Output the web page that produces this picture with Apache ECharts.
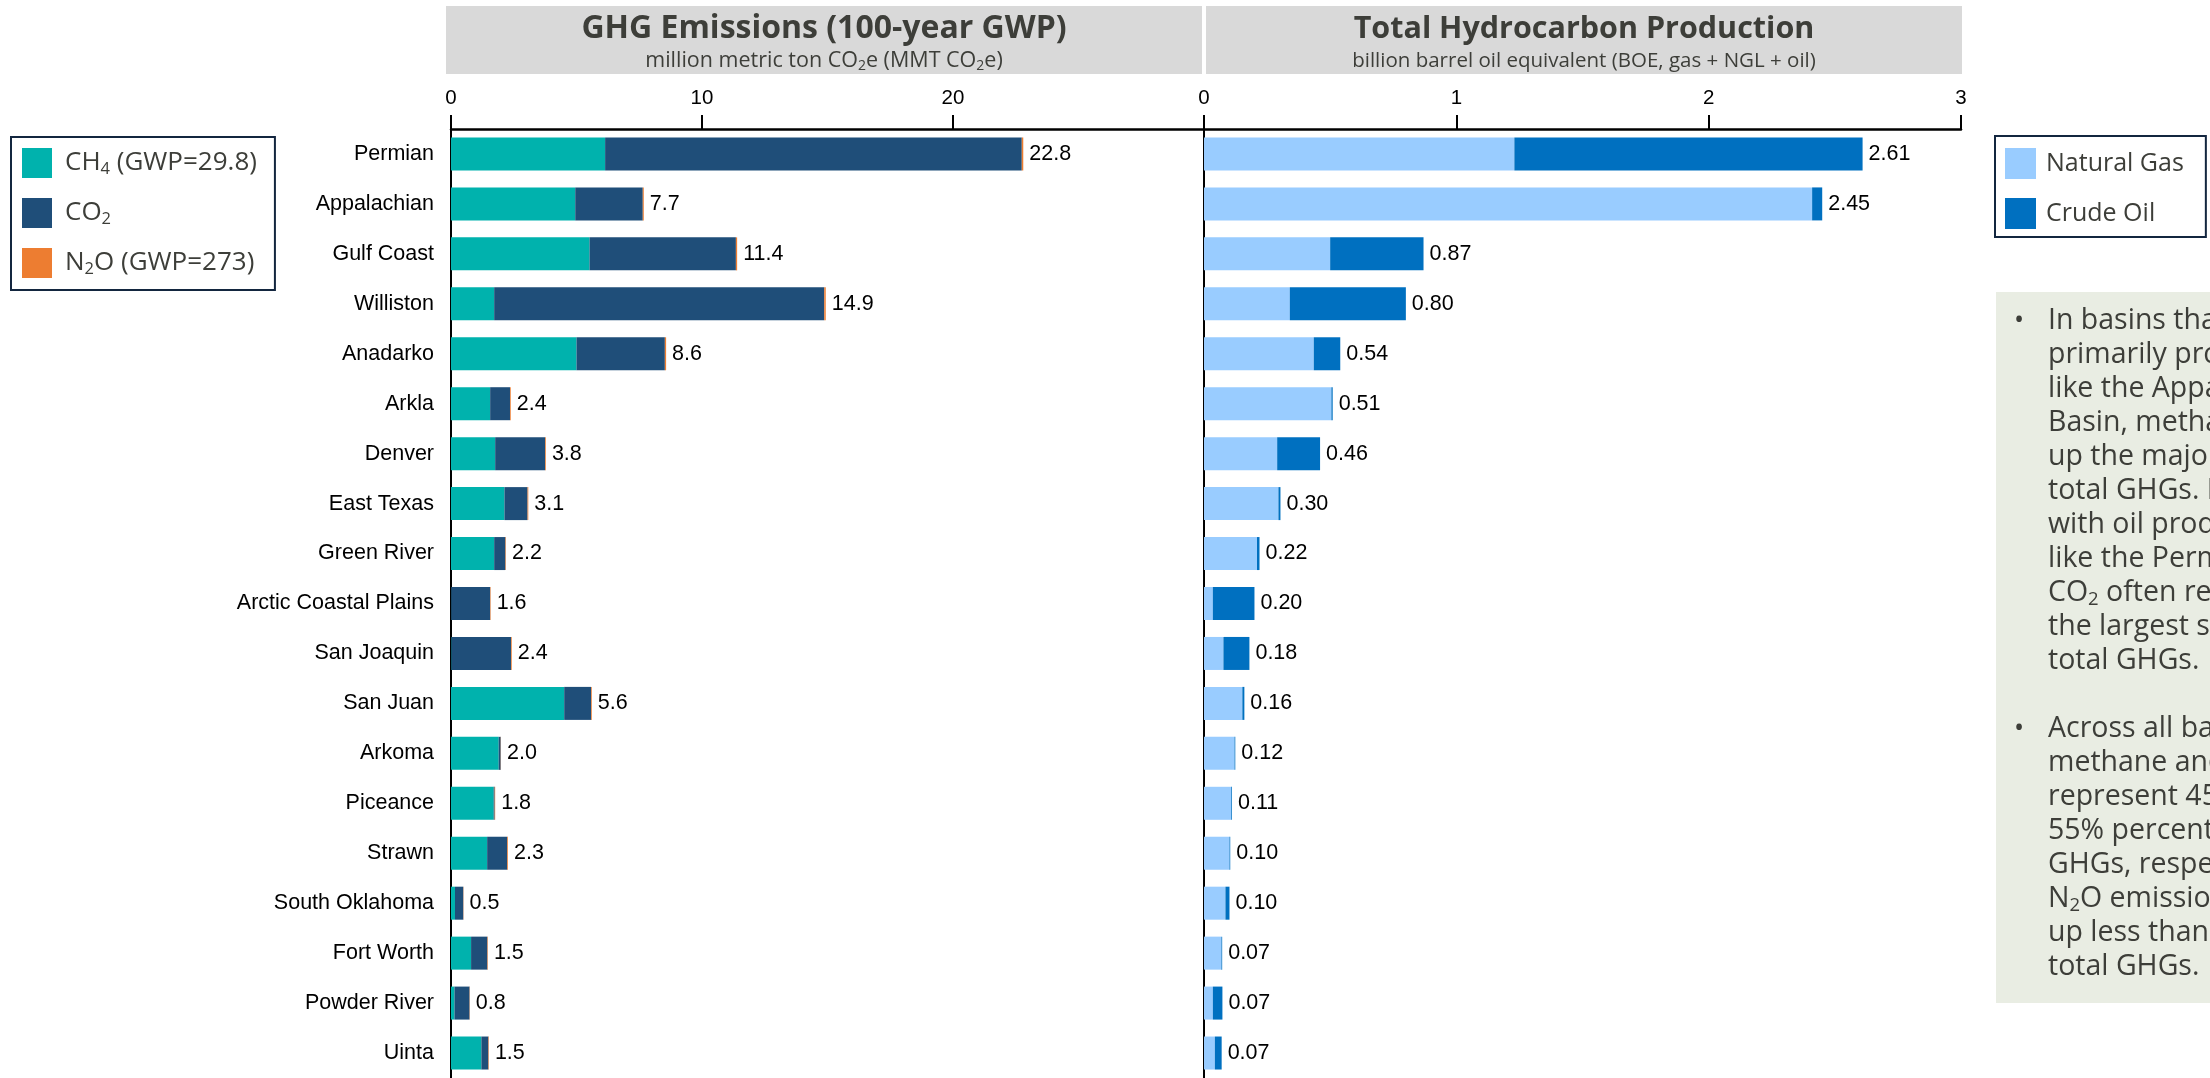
<!DOCTYPE html>
<html>
<head>
<meta charset="utf-8">
<script src="https://cdn.jsdelivr.net/npm/echarts@6/dist/echarts.min.js"></script>
<style>html,body{margin:0;padding:0;background:#fff;overflow:hidden}#chart{width:2210px;height:1078px}</style>
</head>
<body>
<div id="chart"></div>
<script>
// ---------- data ----------
const basins = ['Permian','Appalachian','Gulf Coast','Williston','Anadarko','Arkla','Denver','East Texas','Green River','Arctic Coastal Plains','San Joaquin','San Juan','Arkoma','Piceance','Strawn','South Oklahoma','Fort Worth','Powder River','Uinta'];
const ch4 = [6.14,4.95,5.52,1.72,5.00,1.56,1.76,2.13,1.72,0.01,0.02,4.51,1.90,1.70,1.44,0.16,0.80,0.14,1.21];
const co2 = [16.60,2.69,5.83,13.15,3.52,0.79,1.99,0.92,0.45,1.55,2.37,1.07,0.08,0.04,0.80,0.33,0.65,0.60,0.28];
const n2o = [0.06,0.04,0.05,0.06,0.05,0.03,0.03,0.03,0.02,0.02,0.03,0.03,0.01,0.02,0.03,0.01,0.02,0.01,0.02];
const ghgTotalLabels = ['22.8','7.7','11.4','14.9','8.6','2.4','3.8','3.1','2.2','1.6','2.4','5.6','2.0','1.8','2.3','0.5','1.5','0.8','1.5'];
const naturalGas = [1.23,2.41,0.50,0.34,0.435,0.505,0.29,0.295,0.21,0.035,0.077,0.152,0.121,0.108,0.101,0.085,0.069,0.035,0.043];
const crudeOil = [1.38,0.04,0.37,0.46,0.105,0.005,0.17,0.008,0.01,0.165,0.103,0.008,0.003,0.003,0.003,0.016,0.003,0.038,0.027];
const prodTotalLabels = ['2.61','2.45','0.87','0.80','0.54','0.51','0.46','0.30','0.22','0.20','0.18','0.16','0.12','0.11','0.10','0.10','0.07','0.07','0.07'];
const ghgAxis = {min: 0, max: 30, interval: 10};
const prodAxis = {min: 0, max: 3, interval: 1};
const ghgSeriesNames = ['CH4 (GWP=29.8)', 'CO2', 'N2O (GWP=273)'];
const prodSeriesNames = ['Natural Gas', 'Crude Oil'];
const legendRich = {
  'CH4 (GWP=29.8)': 'CH{s|4} (GWP=29.8)',
  'CO2': 'CO{s|2}',
  'N2O (GWP=273)': 'N{s|2}O (GWP=273)',
  'Natural Gas': 'Natural Gas',
  'Crude Oil': 'Crude Oil'
};
const ghgTitle = 'GHG Emissions (100-year GWP)';
const ghgSubtitle = 'million metric ton CO{s|2}e (MMT CO{s|2}e)';
const prodTitle = 'Total Hydrocarbon Production';
const prodSubtitle = 'billion barrel oil equivalent (BOE, gas + NGL + oil)';
const noteLines = [
  'In basins that',
  'primarily produce gas,',
  'like the Appalachian',
  'Basin, methane makes',
  'up the majority of',
  'total GHGs. In basins',
  'with oil production,',
  'like the Permian,',
  'CO{s|2} often represents',
  'the largest share of',
  'total GHGs.',
  '',
  'Across all basins,',
  'methane and CO{s|2}',
  'represent 45% and',
  '55% percent of total',
  'GHGs, respectively.',
  'N{s|2}O emissions make',
  'up less than 1% of',
  'total GHGs.'
];

// ---------- style ----------
const C_CH4 = '#00b2ad', C_CO2 = '#1f4e79', C_N2O = '#ed7d31';
const C_GAS = '#99ccff', C_OIL = '#0070c0';
const TXT = '#3d3e39';
const ARIAL = "'Liberation Sans', Arial, sans-serif";
const UI = "'Open Sans', 'Noto Sans', sans-serif";

const chart = echarts.init(document.getElementById('chart'), null, {renderer: 'canvas'});

function valueAxis(gridIndex, cfg, hideMax) {
  return {
    type: 'value', gridIndex, position: 'top',
    min: cfg.min, max: cfg.max, interval: cfg.interval,
    axisLine: {show: true, lineStyle: {color: '#000', width: 2.5}},
    axisTick: {show: true, inside: false, length: 14, lineStyle: {color: '#000', width: 2}},
    axisLabel: {show: true, margin: 20, fontSize: 20.5, color: '#000', fontFamily: ARIAL, showMaxLabel: !hideMax},
    splitLine: {show: false}
  };
}
function catAxis(gridIndex, showLabels) {
  return {
    type: 'category', gridIndex, data: basins, inverse: true,
    axisLine: {show: true, lineStyle: {color: '#000', width: 2}},
    axisTick: {show: false},
    axisLabel: {show: showLabels, fontSize: 21.5, color: '#000', fontFamily: ARIAL, margin: 17}
  };
}
const barW = 33;
function lastLabel(arr) {
  return {show: true, position: 'right', distance: 6, fontSize: 21.5, color: '#000', fontFamily: ARIAL,
          formatter: p => arr[p.dataIndex]};
}
const subStyle = (fs, pad) => ({fontSize: fs, lineHeight: fs + 1, padding: [pad, 0, 0, 0], fontFamily: UI, color: TXT, fill: TXT});

const option = {
  animation: false,
  backgroundColor: '#ffffff',
  grid: [
    {left: 451, top: 129, width: 753, height: 949, containLabel: false},
    {left: 1204, top: 129, width: 757, height: 949, containLabel: false}
  ],
  xAxis: [valueAxis(0, ghgAxis, true), valueAxis(1, prodAxis, false)],
  yAxis: [catAxis(0, true), catAxis(1, false)],
  legend: [
    {
      data: ghgSeriesNames, orient: 'vertical', left: 11, top: 137,
      padding: [11, 18, 12, 11], itemWidth: 30, itemHeight: 30, itemGap: 20, icon: 'rect',
      borderColor: '#13263f', borderWidth: 2, backgroundColor: '#fff', selectedMode: false,
      formatter: n => legendRich[n],
      textStyle: {fontFamily: UI, fontSize: 26, color: TXT, padding: [0, 0, 0, 8],
        rich: {s: subStyle(16.5, 13)}}
    },
    {
      data: prodSeriesNames, orient: 'vertical', left: 1995, top: 136,
      padding: [12, 22, 8, 10], itemWidth: 31, itemHeight: 31, itemGap: 19, icon: 'rect',
      borderColor: '#13263f', borderWidth: 2, backgroundColor: '#fff', selectedMode: false,
      formatter: n => legendRich[n],
      textStyle: {fontFamily: UI, fontSize: 25, color: TXT, padding: [0, 0, 0, 5]}
    }
  ],
  series: [
    {name: ghgSeriesNames[0], type: 'bar', xAxisIndex: 0, yAxisIndex: 0, stack: 'ghg', data: ch4, barWidth: barW, itemStyle: {color: C_CH4}},
    {name: ghgSeriesNames[1], type: 'bar', xAxisIndex: 0, yAxisIndex: 0, stack: 'ghg', data: co2, barWidth: barW, itemStyle: {color: C_CO2}},
    {name: ghgSeriesNames[2], type: 'bar', xAxisIndex: 0, yAxisIndex: 0, stack: 'ghg', data: n2o, barWidth: barW, itemStyle: {color: C_N2O}, label: lastLabel(ghgTotalLabels)},
    {name: prodSeriesNames[0], type: 'bar', xAxisIndex: 1, yAxisIndex: 1, stack: 'prod', data: naturalGas, barWidth: barW, itemStyle: {color: C_GAS}},
    {name: prodSeriesNames[1], type: 'bar', xAxisIndex: 1, yAxisIndex: 1, stack: 'prod', data: crudeOil, barWidth: barW, itemStyle: {color: C_OIL}, label: lastLabel(prodTotalLabels)}
  ],
  graphic: [
    {type: 'rect', silent: true, shape: {x: 446, y: 6, width: 756, height: 68}, style: {fill: '#d9d9d9'}},
    {type: 'rect', silent: true, shape: {x: 1206, y: 6, width: 756, height: 68}, style: {fill: '#d9d9d9'}},
    {type: 'text', silent: true, x: 824, y: 29, style: {text: ghgTitle, fill: TXT, fontSize: 32, fontWeight: 'bold', fontFamily: UI, align: 'center', verticalAlign: 'middle'}},
    {type: 'text', silent: true, x: 824, y: 61, style: {text: ghgSubtitle, fill: TXT, fontSize: 21.5, fontFamily: UI, lineHeight: 26, align: 'center', verticalAlign: 'middle', rich: {s: subStyle(14, 10)}}},
    {type: 'text', silent: true, x: 1584, y: 29, style: {text: prodTitle, fill: TXT, fontSize: 30.5, fontWeight: 'bold', fontFamily: UI, align: 'center', verticalAlign: 'middle'}},
    {type: 'text', silent: true, x: 1584, y: 61, style: {text: prodSubtitle, fill: TXT, fontSize: 20.5, fontFamily: UI, lineHeight: 26, align: 'center', verticalAlign: 'middle'}},
    {type: 'rect', silent: true, shape: {x: 1996, y: 292, width: 260, height: 711}, style: {fill: '#e9ede3'}},
    {type: 'text', silent: true, x: 2019, y: 304, style: {text: '•', fill: TXT, fontSize: 27, fontFamily: UI, lineHeight: 34, align: 'center', verticalAlign: 'top'}},
    {type: 'text', silent: true, x: 2019, y: 712, style: {text: '•', fill: TXT, fontSize: 27, fontFamily: UI, lineHeight: 34, align: 'center', verticalAlign: 'top'}},
    {type: 'text', silent: true, x: 2048, y: 304, style: {text: noteLines.join('\n'), fill: TXT, fontSize: 28.5, fontFamily: UI, lineHeight: 34, align: 'left', verticalAlign: 'top', rich: {s: subStyle(18.5, 13)}}}
  ]
};
chart.setOption(option);
</script>
</body>
</html>
